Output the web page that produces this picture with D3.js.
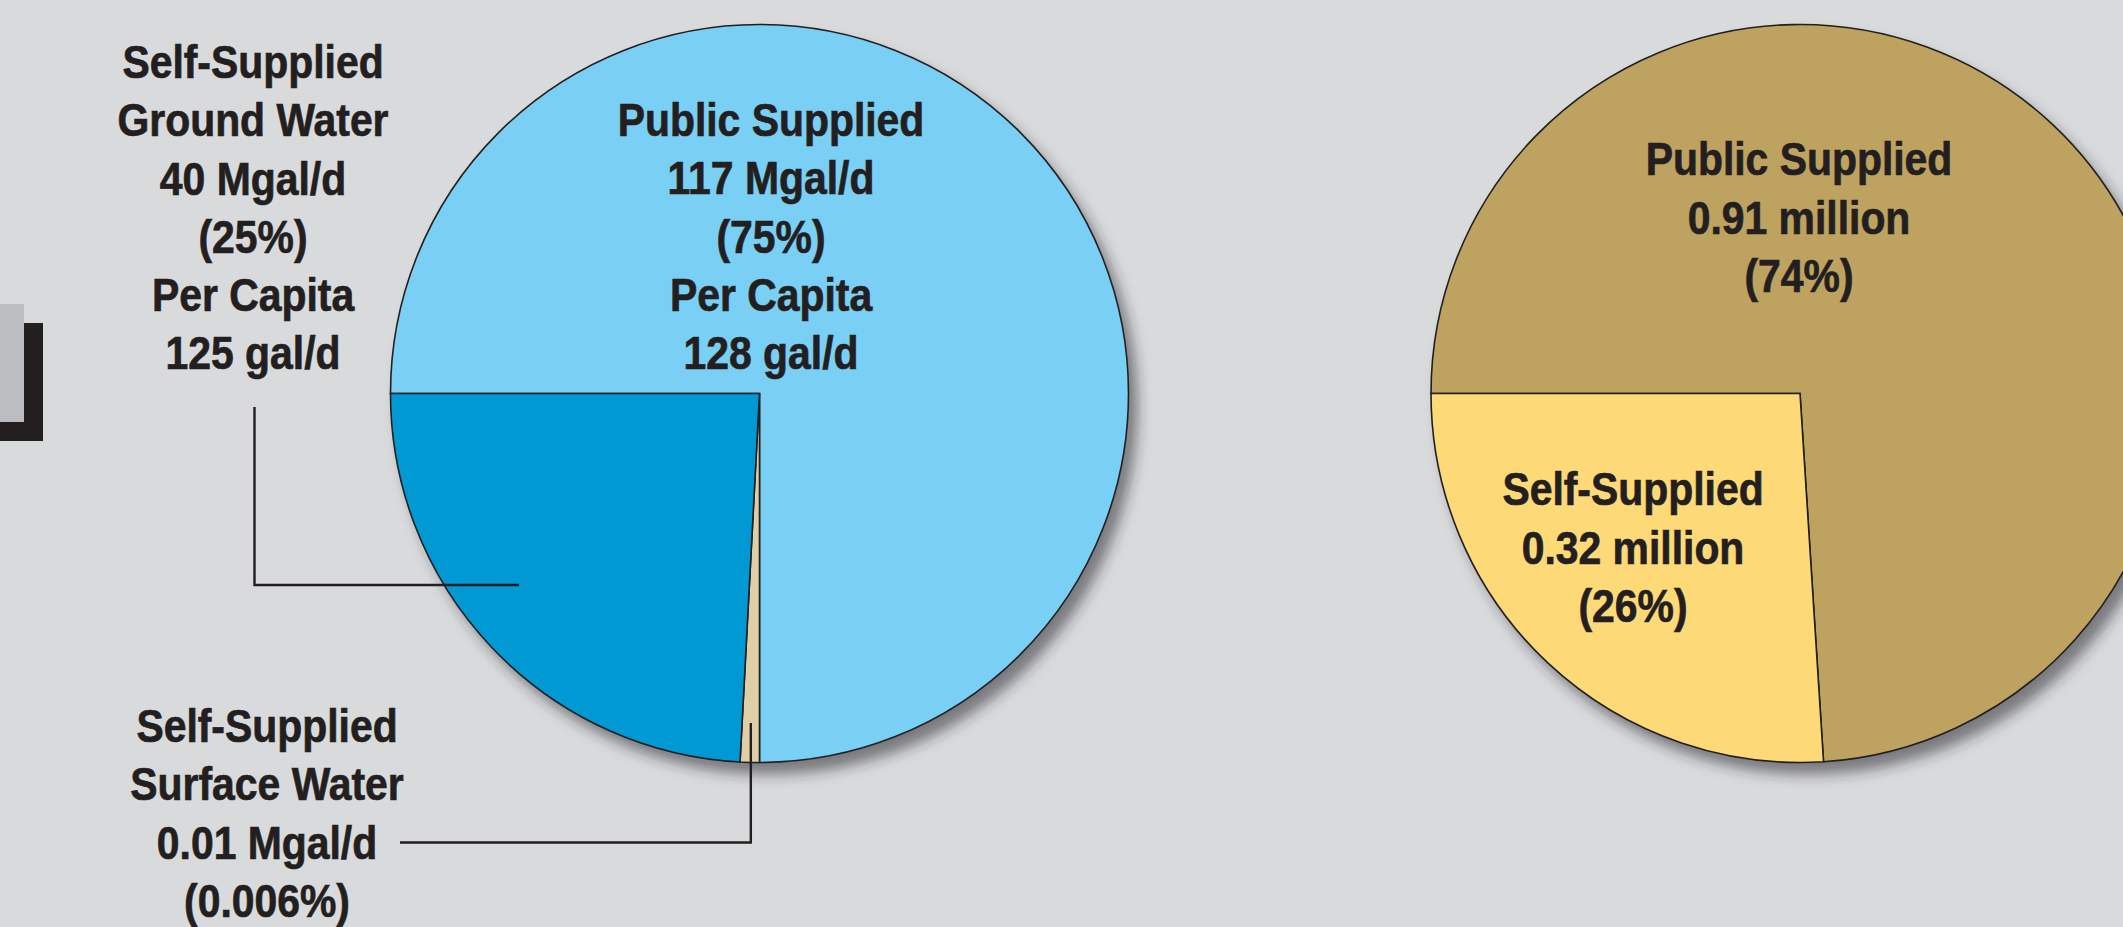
<!DOCTYPE html>
<html>
<head>
<meta charset="utf-8">
<script src="https://cdn.jsdelivr.net/npm/d3@7"></script>
<style>
  html, body { margin: 0; padding: 0; background: #d9dadc; overflow: hidden; }
  svg { display: block; }
  .lbl { font-family: "Liberation Sans", Arial, sans-serif; font-weight: bold; font-size: 47px; fill: #231f20; stroke: #231f20; stroke-width: 0.7px; }
</style>
</head>
<body>
<svg id="chart" width="2123" height="927"></svg>
<script>
// ---------- data ----------
const withdrawalCategories = ["Public Supplied", "Self-Supplied Surface Water", "Self-Supplied Ground Water"];
const withdrawalMgal = [117, 0.01, 40];
const withdrawalPercentText = ["75%", "0.006%", "25%"];
// slice sizes as drawn in the picture (the surface-water sliver is exaggerated there)
const withdrawalDrawnShare = [75, 0.84, 24.16];
const perCapitaGal = [128, null, 125];
const withdrawalColors = ["#79cff4", "#dfcfa7", "#0099d4"];

const populationCategories = ["Public Supplied", "Self-Supplied"];
const populationMillion = [0.91, 0.32];
const populationPercent = [74, 26];
const populationColors = ["#bea25f", "#fed978"];

// ---------- layout ----------
const W = 2123, H = 927;
const R = 369;
const leftC = [759.5, 393.5];
const rightC = [1800, 393.5];
const lineStep = 58.3;
const textScale = 0.87;

const svg = d3.select("#chart");
svg.append("rect").attr("width", W).attr("height", H).attr("fill", "#d9dadc");

const defs = svg.append("defs");
const f = defs.append("filter").attr("id", "shadow")
  .attr("x", "-10%").attr("y", "-10%").attr("width", "130%").attr("height", "130%");
f.append("feDropShadow").attr("dx", 9).attr("dy", 12).attr("stdDeviation", 7)
  .attr("flood-color", "#2a292e").attr("flood-opacity", 0.55);

// side tab at left edge
svg.append("rect").attr("x", -10).attr("y", 323).attr("width", 53).attr("height", 118).attr("fill", "#231f20");
svg.append("rect").attr("x", -10).attr("y", 304).attr("width", 34).attr("height", 118).attr("fill", "#bcbdc0");

const arc = d3.arc().innerRadius(0).outerRadius(R);

function drawPie(center, values, colors) {
  const pie = d3.pie().sort(null).value(d => d)
    .startAngle(-Math.PI / 2).endAngle(3 * Math.PI / 2);
  const arcs = pie(values);
  const g = svg.append("g").attr("transform", `translate(${center[0]},${center[1]})`);
  g.append("circle").attr("r", R).attr("fill", "#bbb").attr("filter", "url(#shadow)");
  g.selectAll("path.slice").data(arcs).join("path")
    .attr("class", "slice")
    .attr("d", arc)
    .attr("fill", (d, i) => colors[i])
    .attr("stroke", "#231f20")
    .attr("stroke-width", 1.6)
    .attr("stroke-linejoin", "miter");
  return arcs;
}

function label(cx, firstBaseline, lines) {
  const g = svg.append("g").attr("transform", `translate(${cx},0) scale(${textScale},1)`);
  lines.forEach((t, i) => {
    g.append("text").attr("class", "lbl")
      .attr("x", 0).attr("y", firstBaseline + i * lineStep)
      .attr("text-anchor", "middle").text(t);
  });
}

// ---------- left pie: water withdrawals ----------
const leftArcs = drawPie(leftC, withdrawalDrawnShare, withdrawalColors);

label(771, 136, ["Public Supplied", `${withdrawalMgal[0]} Mgal/d`, `(${withdrawalPercentText[0]})`,
  "Per Capita", `${perCapitaGal[0]} gal/d`]);
label(253, 78, ["Self-Supplied", "Ground Water", `${withdrawalMgal[2]} Mgal/d`, `(${withdrawalPercentText[2]})`,
  "Per Capita", `${perCapitaGal[2]} gal/d`]);
label(267, 742, ["Self-Supplied", "Surface Water", `${withdrawalMgal[1].toFixed(2)} Mgal/d`, `(${withdrawalPercentText[1]})`]);

// leader lines
const leader = d3.line();
const sliverMid = (leftArcs[1].startAngle + leftArcs[1].endAngle) / 2;
const sliverX = leftC[0] + Math.sin(sliverMid) * (R - 40);
svg.append("path").attr("d", leader([[sliverX, 723], [sliverX, 842.5], [400, 842.5]]))
  .attr("fill", "none").attr("stroke", "#231f20").attr("stroke-width", 2.4);
svg.append("path").attr("d", leader([[254.5, 407], [254.5, 585], [519, 585]]))
  .attr("fill", "none").attr("stroke", "#231f20").attr("stroke-width", 2.4);

// ---------- right pie: population served ----------
drawPie(rightC, populationMillion, populationColors);
label(1799, 175.5, ["Public Supplied", `${populationMillion[0].toFixed(2)} million`, `(${populationPercent[0]}%)`]);
label(1633, 505.5, ["Self-Supplied", `${populationMillion[1].toFixed(2)} million`, `(${populationPercent[1]}%)`]);
</script>
</body>
</html>
